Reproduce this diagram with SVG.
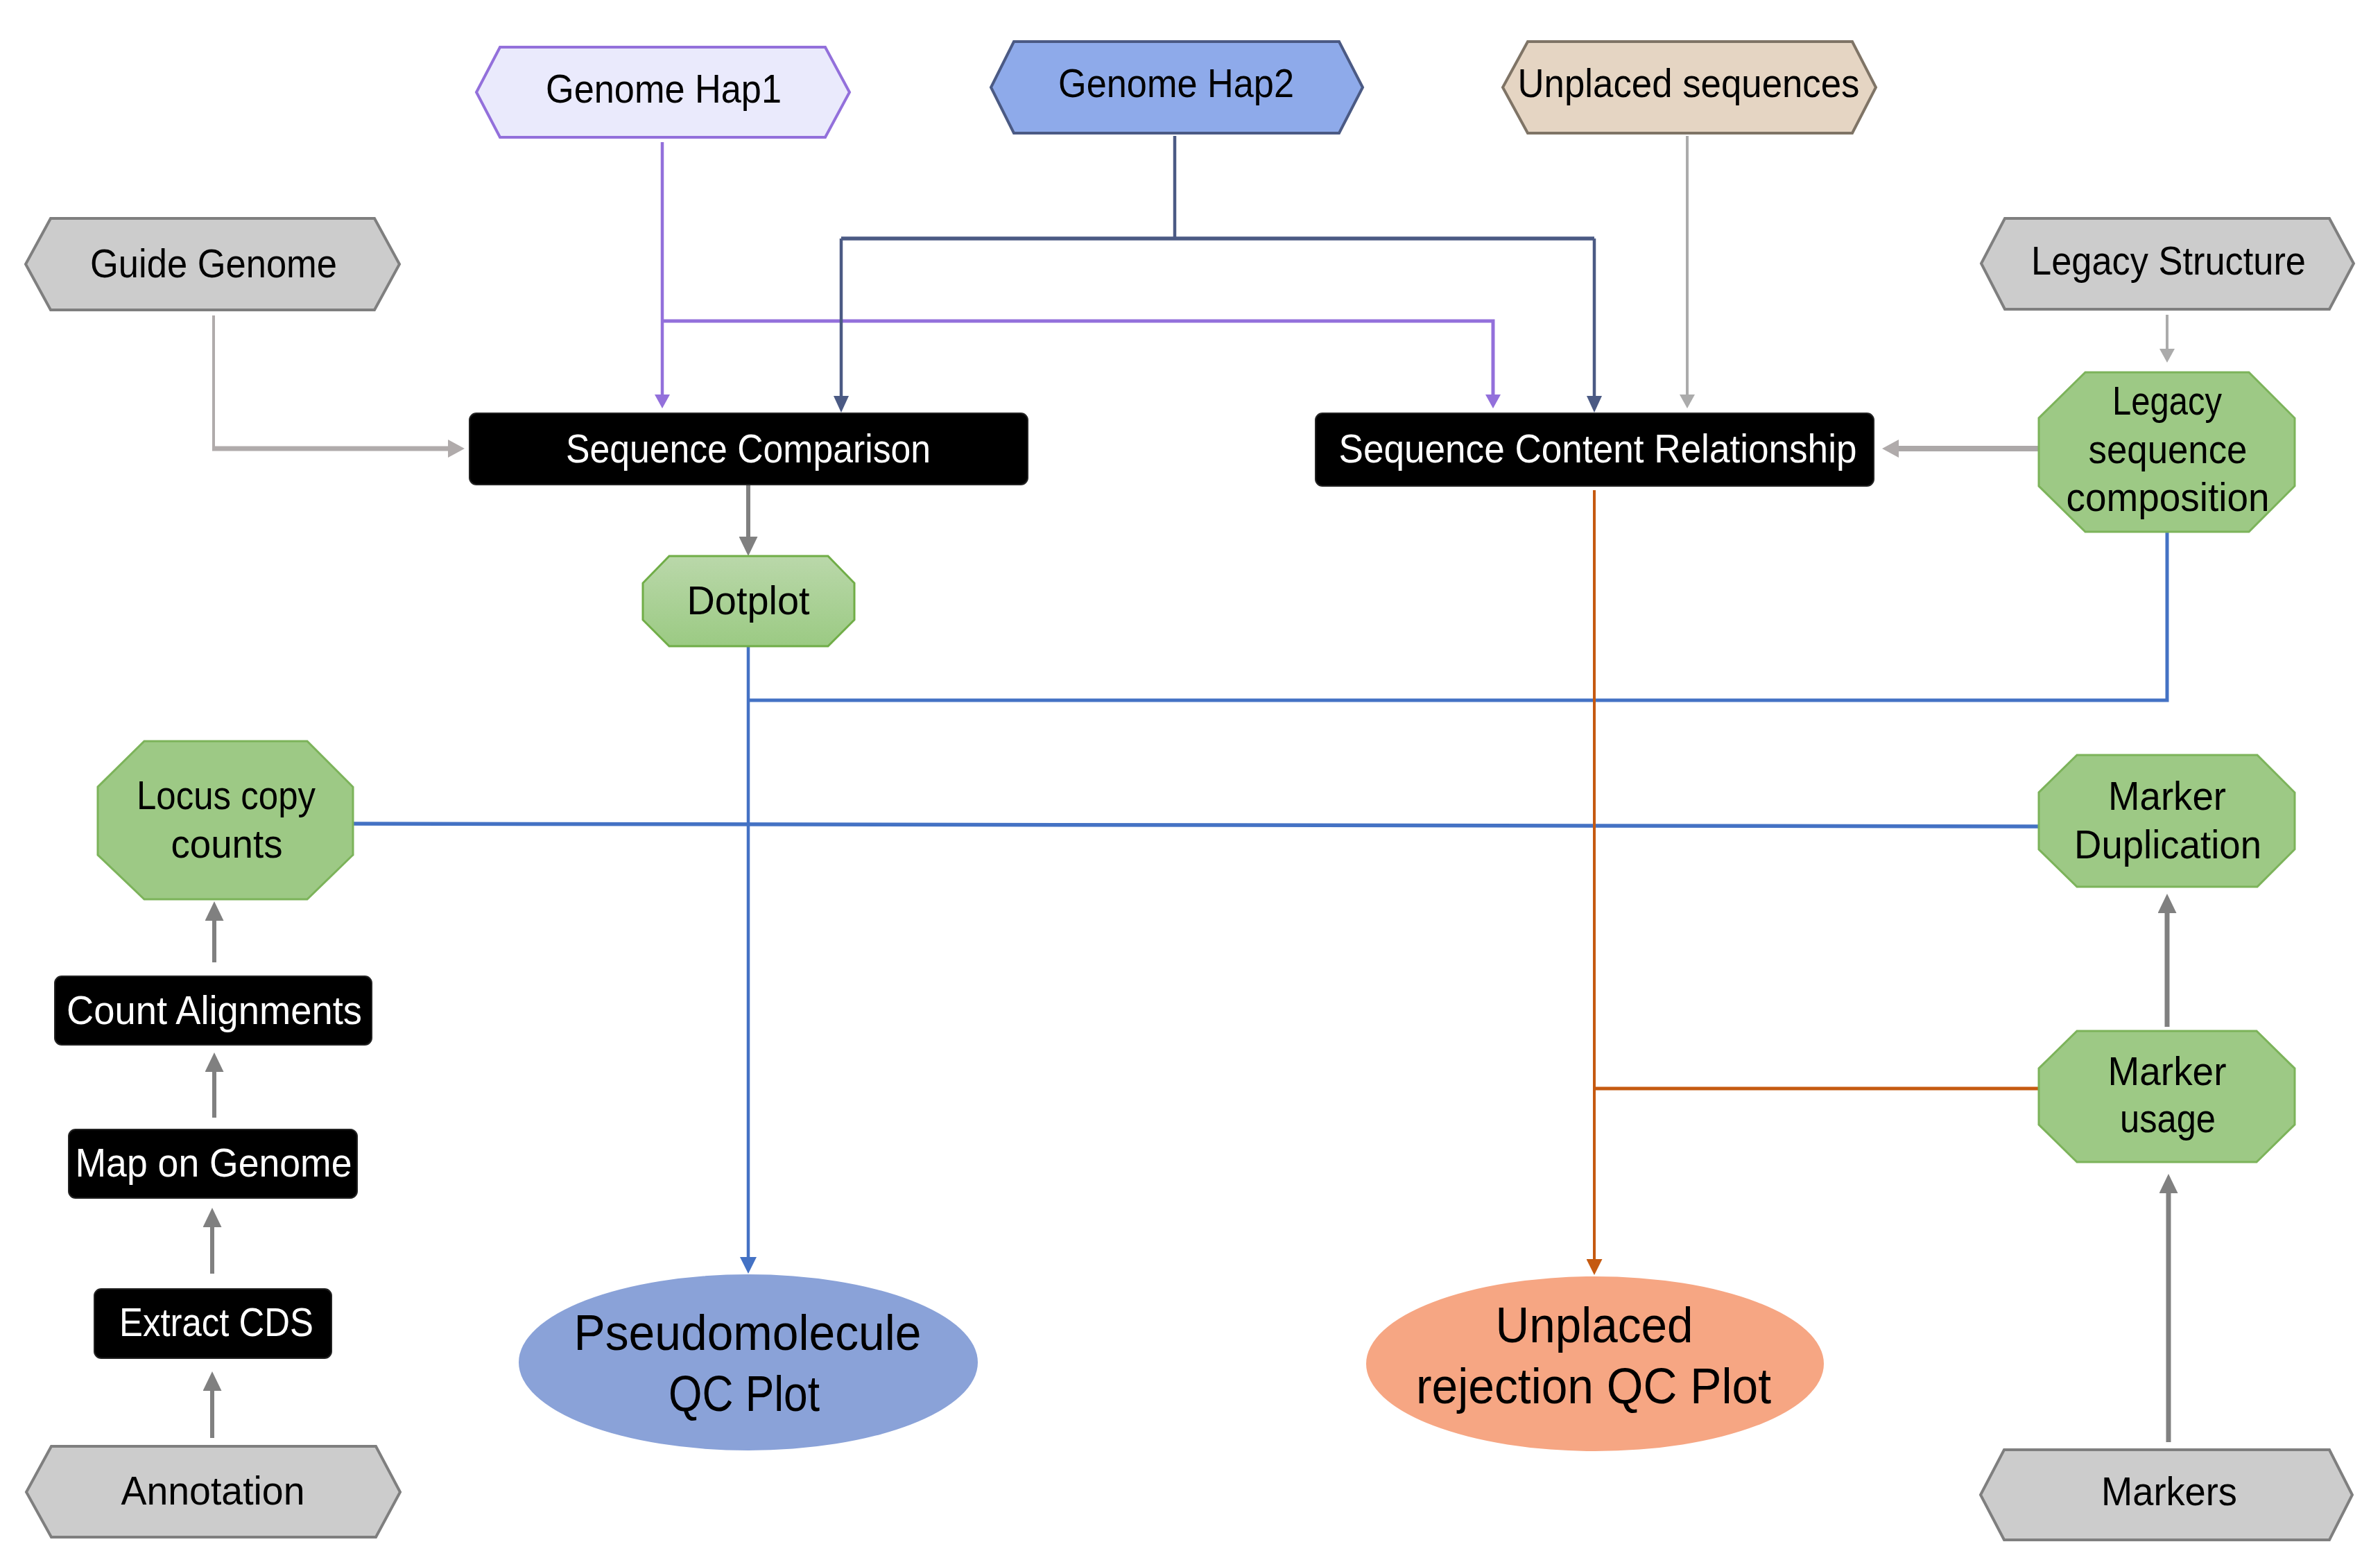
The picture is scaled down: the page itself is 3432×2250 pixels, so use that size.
<svg xmlns="http://www.w3.org/2000/svg" width="3432" height="2250" viewBox="0 0 3432 2250">
<style>
text{font-family:"Liberation Sans",Arial,sans-serif;font-size:57px;text-anchor:middle;fill:#000}
.big{font-size:72px}
.w{fill:#fff}
.box{fill:#000;stroke:#222;stroke-width:2}
.hexg{fill:#cccccc;stroke:#7f7f7f;stroke-width:4}
.oct{fill:#9dc985;stroke:#7cb35a;stroke-width:3}
.c{fill:none;stroke-linejoin:miter}
</style>
<defs>
<linearGradient id="dg" x1="0" y1="0" x2="0" y2="1"><stop offset="0" stop-color="#bad8aa"/><stop offset="1" stop-color="#9bca83"/></linearGradient>
<marker id="aP" markerUnits="userSpaceOnUse" viewBox="0 0 20 22" markerWidth="20" markerHeight="22" refX="0" refY="11" orient="auto"><path d="M0,0L20,11L0,22z" fill="#9370db"/></marker>
<marker id="aD" markerUnits="userSpaceOnUse" viewBox="0 0 24 22" markerWidth="24" markerHeight="22" refX="0" refY="11" orient="auto"><path d="M0,0L24,11L0,22z" fill="#4b5a84"/></marker>
<marker id="aL" markerUnits="userSpaceOnUse" viewBox="0 0 20 22" markerWidth="20" markerHeight="22" refX="0" refY="11" orient="auto"><path d="M0,0L20,11L0,22z" fill="#ababab"/></marker>
<marker id="aG" markerUnits="userSpaceOnUse" viewBox="0 0 24 26" markerWidth="24" markerHeight="26" refX="0" refY="13" orient="auto"><path d="M0,0L24,13L0,26z" fill="#b0abab"/></marker>
<marker id="aM" markerUnits="userSpaceOnUse" viewBox="0 0 28 27" markerWidth="28" markerHeight="27" refX="0" refY="13.5" orient="auto"><path d="M0,0L28,13.5L0,27z" fill="#808080"/></marker>
<marker id="aB" markerUnits="userSpaceOnUse" viewBox="0 0 24 24" markerWidth="24" markerHeight="24" refX="0" refY="12" orient="auto"><path d="M0,0L24,12L0,24z" fill="#4472c4"/></marker>
<marker id="aO" markerUnits="userSpaceOnUse" viewBox="0 0 23 23" markerWidth="23" markerHeight="23" refX="0" refY="11.5" orient="auto"><path d="M0,0L23,11.5L0,23z" fill="#c55a11"/></marker>
</defs>

<g id="connectors" class="c">
<path d="M955,205V569" stroke="#9370db" stroke-width="4.5" marker-end="url(#aP)"/>
<path d="M955,463H2153V569" stroke="#9370db" stroke-width="5" marker-end="url(#aP)"/>
<path d="M1694,196V344" stroke="#4b5a84" stroke-width="4.5"/>
<path d="M1213,344H2299" stroke="#4b5a84" stroke-width="5.5"/>
<path d="M1213,344V571" stroke="#4b5a84" stroke-width="4.5" marker-end="url(#aD)"/>
<path d="M2299,344V571" stroke="#4b5a84" stroke-width="4.5" marker-end="url(#aD)"/>
<path d="M2433,196V569" stroke="#ababab" stroke-width="4" marker-end="url(#aL)"/>
<path d="M308,455V647" stroke="#b0abab" stroke-width="4"/>
<path d="M306,647H646" stroke="#b0abab" stroke-width="7" marker-end="url(#aG)"/>
<path d="M1079,700V774" stroke="#808080" stroke-width="6" marker-end="url(#aM)"/>
<path d="M1079,932V1813" stroke="#4472c4" stroke-width="4.5" marker-end="url(#aB)"/>
<path d="M1079,1010H3125V767" stroke="#4472c4" stroke-width="5"/>
<path d="M509,1188L2940,1192" stroke="#4472c4" stroke-width="5.5"/>
<path d="M2299,707V1816" stroke="#c55a11" stroke-width="4" marker-end="url(#aO)"/>
<path d="M2299,1570H2940" stroke="#c55a11" stroke-width="5"/>
<path d="M3125,454V503" stroke="#ababab" stroke-width="4" marker-end="url(#aL)"/>
<path d="M2940,647H2738" stroke="#aca8a8" stroke-width="8" marker-end="url(#aG)"/>
<path d="M3125,1481V1317" stroke="#808080" stroke-width="7" marker-end="url(#aM)"/>
<path d="M3127,2080V1721" stroke="#808080" stroke-width="7" marker-end="url(#aM)"/>
<path d="M306,2074V2006" stroke="#808080" stroke-width="6" marker-end="url(#aM)"/>
<path d="M306,1837V1770" stroke="#808080" stroke-width="6" marker-end="url(#aM)"/>
<path d="M309,1612V1546" stroke="#808080" stroke-width="6" marker-end="url(#aM)"/>
<path d="M309,1388V1328" stroke="#808080" stroke-width="6" marker-end="url(#aM)"/>
</g>

<g id="genome-hap1">
<polygon points="721,68 1190,68 1225,133 1190,198 721,198 687,133" fill="#eaeafc" stroke="#9370db" stroke-width="4"/>
<text x="957" y="148" textLength="340" lengthAdjust="spacingAndGlyphs">Genome Hap1</text>
</g>
<g id="genome-hap2">
<polygon points="1462,60 1931,60 1965,126 1931,192 1462,192 1429,126" fill="#8eaaea" stroke="#4b5a84" stroke-width="4"/>
<text x="1696" y="140" textLength="340" lengthAdjust="spacingAndGlyphs">Genome Hap2</text>
</g>
<g id="unplaced-sequences">
<polygon points="2203,60 2671,60 2705,126 2671,192 2203,192 2167,126" fill="#e5d5c3" stroke="#7f7466" stroke-width="4"/>
<text x="2435" y="140" textLength="493" lengthAdjust="spacingAndGlyphs">Unplaced sequences</text>
</g>
<g id="guide-genome">
<polygon class="hexg" points="73,315 540,315 576,381 540,447 73,447 37,381"/>
<text x="308" y="400" textLength="356" lengthAdjust="spacingAndGlyphs">Guide Genome</text>
</g>
<g id="legacy-structure">
<polygon class="hexg" points="2891,315 3359,315 3394,380 3359,446 2891,446 2857,380"/>
<text x="3127" y="396" textLength="396" lengthAdjust="spacingAndGlyphs">Legacy Structure</text>
</g>
<g id="sequence-comparison">
<rect class="box" x="677" y="596" width="805" height="103" rx="10"/>
<text class="w" x="1079" y="667" textLength="526" lengthAdjust="spacingAndGlyphs">Sequence Comparison</text>
</g>
<g id="sequence-content-relationship">
<rect class="box" x="1897" y="596" width="805" height="105" rx="10"/>
<text class="w" x="2304" y="667" textLength="747" lengthAdjust="spacingAndGlyphs">Sequence Content Relationship</text>
</g>
<g id="legacy-sequence-composition">
<polygon class="oct" points="3007,537 3243,537 3309,603 3309,701 3243,767 3007,767 2940,701 2940,603"/>
<text x="3125" y="598" textLength="158" lengthAdjust="spacingAndGlyphs">Legacy</text>
<text x="3126" y="668" textLength="229" lengthAdjust="spacingAndGlyphs">sequence</text>
<text x="3126" y="737" textLength="293" lengthAdjust="spacingAndGlyphs">composition</text>
</g>
<g id="dotplot">
<polygon points="965,802 1194,802 1232,841 1232,894 1194,932 965,932 927,894 927,841" fill="url(#dg)" stroke="#70ad47" stroke-width="3"/>
<text x="1079" y="886" textLength="177" lengthAdjust="spacingAndGlyphs">Dotplot</text>
</g>
<g id="locus-copy-counts">
<polygon class="oct" points="208,1069 443,1069 509,1135 509,1233 443,1297 208,1297 141,1233 141,1135"/>
<text x="326" y="1167" textLength="258" lengthAdjust="spacingAndGlyphs">Locus copy</text>
<text x="327" y="1237" textLength="161" lengthAdjust="spacingAndGlyphs">counts</text>
</g>
<g id="marker-duplication">
<polygon class="oct" points="2995,1089 3255,1089 3309,1143 3309,1225 3255,1279 2995,1279 2940,1225 2940,1143"/>
<text x="3125" y="1168" textLength="170" lengthAdjust="spacingAndGlyphs">Marker</text>
<text x="3126" y="1238" textLength="270" lengthAdjust="spacingAndGlyphs">Duplication</text>
</g>
<g id="marker-usage">
<polygon class="oct" points="2995,1487 3254,1487 3309,1541 3309,1622 3254,1676 2995,1676 2940,1622 2940,1541"/>
<text x="3125" y="1565" textLength="171" lengthAdjust="spacingAndGlyphs">Marker</text>
<text x="3126" y="1633" textLength="138" lengthAdjust="spacingAndGlyphs">usage</text>
</g>
<g id="count-alignments">
<rect class="box" x="79" y="1408" width="457" height="99" rx="10"/>
<text class="w" x="309" y="1477" textLength="426" lengthAdjust="spacingAndGlyphs">Count Alignments</text>
</g>
<g id="map-on-genome">
<rect class="box" x="99" y="1629" width="416" height="99" rx="10"/>
<text class="w" x="308" y="1697" textLength="399" lengthAdjust="spacingAndGlyphs">Map on Genome</text>
</g>
<g id="extract-cds">
<rect class="box" x="136" y="1859" width="342" height="100" rx="10"/>
<text class="w" x="312" y="1927" textLength="280" lengthAdjust="spacingAndGlyphs">Extract CDS</text>
</g>
<g id="annotation">
<polygon class="hexg" points="74,2086 542,2086 577,2152 542,2217 74,2217 38,2152"/>
<text x="307" y="2170" textLength="265" lengthAdjust="spacingAndGlyphs">Annotation</text>
</g>
<g id="markers">
<polygon class="hexg" points="2890,2091 3359,2091 3392,2156 3359,2221 2890,2221 2856,2156"/>
<text x="3128" y="2171" textLength="196" lengthAdjust="spacingAndGlyphs">Markers</text>
</g>
<g id="pseudomolecule-qc-plot">
<ellipse cx="1079" cy="1965" rx="331" ry="127" fill="#8aa2d8"/>
<text class="big" x="1078" y="1947" textLength="501" lengthAdjust="spacingAndGlyphs">Pseudomolecule</text>
<text class="big" x="1073" y="2035" textLength="218" lengthAdjust="spacingAndGlyphs">QC Plot</text>
</g>
<g id="unplaced-rejection-qc-plot">
<ellipse cx="2300" cy="1967" rx="330" ry="126" fill="#f6a683"/>
<text class="big" x="2299" y="1936" textLength="285" lengthAdjust="spacingAndGlyphs">Unplaced</text>
<text class="big" x="2298" y="2024" textLength="512" lengthAdjust="spacingAndGlyphs">rejection QC Plot</text>
</g>
</svg>
